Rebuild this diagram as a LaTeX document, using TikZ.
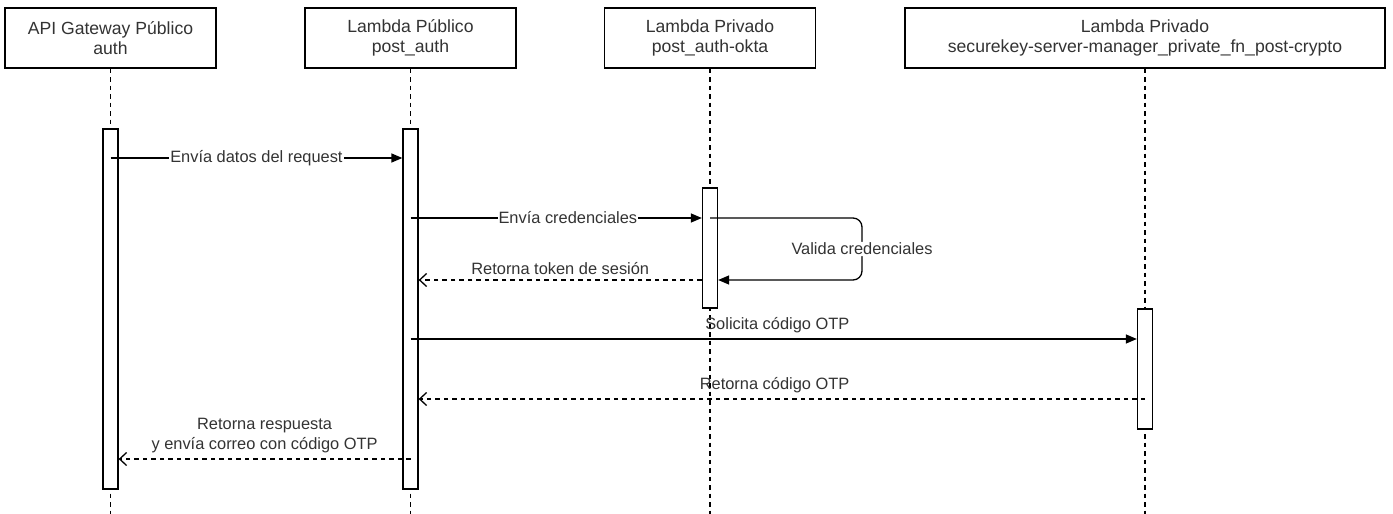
\documentclass[tikz,border=0pt]{standalone}
\usepackage{fontspec}
\setmainfont{Liberation Sans}
\usetikzlibrary{arrows.meta,calc}

\definecolor{inkline}{HTML}{000000}
\definecolor{inktext}{HTML}{333333}

\tikzset{
  participant/.style={draw=inkline, line width=1.3pt, fill=white, align=center,
    minimum height=60pt, inner sep=0pt, text=inktext,
    font=\fontsize{17.6}{20.5}\selectfont},
  lifeline/.style={draw=inkline, line width=1.3pt, dash pattern=on 4.5pt off 4pt},
  actbar/.style={draw=inkline, line width=1.3pt, fill=white, minimum width=15pt,
    inner sep=0pt},
  callmsg/.style={draw=inkline, line width=1.3pt,
    -{Triangle[length=11pt,width=9pt]}},
  replymsg/.style={draw=inkline, line width=1.3pt, dash pattern=on 4.5pt off 4pt,
    -{Straight Barb[length=7pt,width=13pt,line width=1.3pt]}},
  msglabel/.style={text=inktext, font=\fontsize{16.4}{20}\selectfont, inner sep=1pt,
    align=center},
  onlabel/.style={msglabel, fill=white}
}

\begin{document}
\begin{tikzpicture}[x=1pt,y=-1pt]
\useasboundingbox (0,0) rectangle (1393,514);

% participants
\node[participant, minimum width=211pt] (p1) at (110.5,38) {API Gateway Público\\auth};
\node[participant, minimum width=211pt] (p2) at (410.5,38) {Lambda Público\\post\_auth};
\node[participant, minimum width=211pt] (p3) at (710,38) {Lambda Privado\\post\_auth-okta};
\node[participant, minimum width=480pt] (p4) at (1145,38) {Lambda Privado\\securekey-server-manager\_private\_fn\_post-crypto};

% lifeline ends
\coordinate (e1) at (110.5,514);
\coordinate (e2) at (410.5,514);
\coordinate (e3) at (710,514);
\coordinate (e4) at (1145,514);
\draw[lifeline] (p1.south) -- (e1);
\draw[lifeline] (p2.south) -- (e2);
\draw[lifeline] (p3.south) -- (e3);
\draw[lifeline] (p4.south) -- (e4);

% activation bars
\node[actbar, minimum height=360pt] (b1) at (110.5,309) {};
\node[actbar, minimum height=360pt] (b2) at (410.5,309) {};
\node[actbar, minimum height=120pt] (b3) at (710,248) {};
\node[actbar, minimum height=120pt] (b4) at (1145,369) {};

% message heights
\coordinate (m1) at (0,158);
\coordinate (m2) at (0,218);
\coordinate (m3) at (0,280);
\coordinate (m4) at (0,339);
\coordinate (m5) at (0,399);
\coordinate (m6) at (0,459);
\coordinate (turn) at (862,218);

% messages
\draw[callmsg] (b1.center |- m1) -- node[onlabel] {Envía datos del request} (b2.west |- m1);
\draw[callmsg] (b2.center |- m2) -- node[onlabel, pos=0.54] {Envía credenciales} (b3.west |- m2);
\draw[callmsg, rounded corners=9pt] (b3.center |- m2) -- (turn) -- node[onlabel] {Valida credenciales} (turn |- m3) -- (b3.east |- m3);
\draw[replymsg] (b3.west |- m3) -- node[msglabel, above=4pt] {Retorna token de sesión} (b2.east |- m3);
\draw[callmsg] (b2.center |- m4) -- node[msglabel, above=4pt, pos=0.505] {Solicita código OTP} (b4.west |- m4);
\draw[replymsg] (b4.center |- m5) -- node[msglabel, above=4pt, pos=0.51] {Retorna código OTP} (b2.east |- m5);
\draw[replymsg] (b2.center |- m6) -- node[msglabel, above=4pt, pos=0.5] {Retorna respuesta\\y envía correo con código OTP} (b1.east |- m6);

\end{tikzpicture}
\end{document}
